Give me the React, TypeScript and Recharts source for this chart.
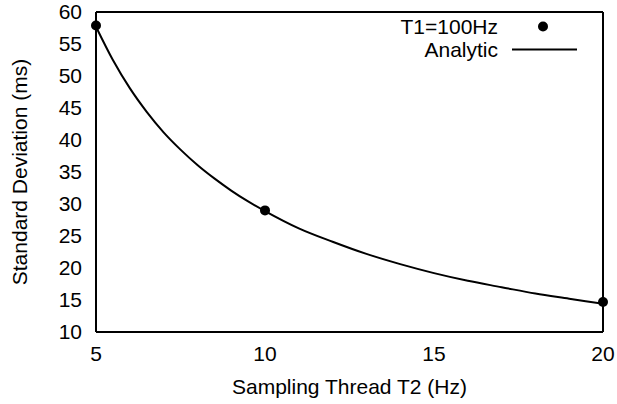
import { ComposedChart, Legend, Line, Scatter, XAxis, YAxis } from 'recharts'

// measured points (T1 = 100Hz)
const sampledHz = [5, 10, 20]
const measuredStd = [57.9, 29.0, 14.7]

// analytic curve
const analyticHz = [5, 5.5, 6, 6.5, 7, 7.5, 8, 8.5, 9, 9.5, 10, 11, 12, 13, 14, 15, 16, 17, 18, 19, 20]
const analyticStd = [57.7, 52.5, 48.1, 44.4, 41.2, 38.5, 36.1, 34.0, 32.1, 30.4, 28.9, 26.2, 24.1, 22.2, 20.6, 19.2, 18.0, 17.0, 16.0, 15.2, 14.4]

const xMajorTicks = [5, 10, 15, 20]
const xMinorTicks = [6, 7, 8, 9, 11, 12, 13, 14, 16, 17, 18, 19]
const yTicks = [10, 15, 20, 25, 30, 35, 40, 45, 50, 55, 60]

const legendItems = [
  { label: 'T1=100Hz', kind: 'dot' },
  { label: 'Analytic', kind: 'line' },
]

const FONT = '"Liberation Sans", Arial, Helvetica, sans-serif'
const tickText = { fill: '#000', fontSize: 21, fontFamily: FONT }
const tickStroke = { stroke: '#000', strokeWidth: 1.5 }
const frame = { stroke: '#000', strokeWidth: 2 }

const measuredData = sampledHz.map((x, i) => ({ x, y: measuredStd[i] }))
const analyticData = analyticHz.map((x, i) => ({ x, y: analyticStd[i] }))

function Dot(props: any) {
  return <circle cx={props.cx} cy={props.cy} r={5} fill='#000' />
}

function YTitle(props: any) {
  const vb = props.viewBox ?? { x: 0, y: 12, width: 96, height: 320 }
  const cx = vb.x + 20
  const cy = vb.y + vb.height / 2
  return (
    <text
      x={cx}
      y={cy}
      dy='0.355em'
      transform={`rotate(-90, ${cx}, ${cy})`}
      textAnchor='middle'
      fontSize={21}
      fontFamily={FONT}
      fill='#000'
    >
      Standard Deviation (ms)
    </text>
  )
}

function GnuplotLegend() {
  return (
    <svg width={230} height={60} style={{ display: 'block' }}>
      {legendItems.map((item, i) => {
        const y = 16.5 + i * 23
        return (
          <g key={item.label}>
            <text
              x={128}
              y={y}
              dy='0.355em'
              textAnchor='end'
              fontSize={21}
              fontFamily={FONT}
              fill='#000'
            >
              {item.label}
            </text>
            {item.kind === 'dot' ? (
              <circle cx={173} cy={y} r={5} fill='#000' />
            ) : (
              <line x1={142} x2={207} y1={y} y2={y} stroke='#000' strokeWidth={2} />
            )}
          </g>
        )
      })}
    </svg>
  )
}

export default function App() {
  return (
    <div style={{ position: 'absolute', left: 0, top: 0, background: '#fff' }}>
      <ComposedChart
        width={617}
        height={404}
        margin={{ top: 12, right: 14, bottom: 0, left: 0 }}
        style={{ fontFamily: FONT }}
      >
        {/* main axes with labels */}
        <XAxis
          dataKey='x'
          type='number'
          domain={[5, 20]}
          ticks={xMajorTicks}
          interval={0}
          height={72}
          tick={tickText}
          tickLine={false}
          tickSize={6}
          tickMargin={8}
          axisLine={frame}
          label={{
            value: 'Sampling Thread T2 (Hz)',
            position: 'insideBottom',
            offset: 10,
            fill: '#000',
            fontSize: 21,
          }}
        />
        <YAxis
          type='number'
          domain={[10, 60]}
          ticks={yTicks}
          interval={0}
          width={96}
          tick={tickText}
          tickLine={false}
          tickSize={6}
          tickMargin={8}
          axisLine={frame}
          label={(p: any) => <YTitle {...p} />}
        />

        {/* inward ticks, gnuplot style */}
        <XAxis xAxisId='bMajor' type='number' domain={[5, 20]} ticks={xMajorTicks} interval={0}
          orientation='bottom' mirror tick={false} tickSize={6} tickLine={tickStroke} axisLine={false} />
        <XAxis xAxisId='bMinor' type='number' domain={[5, 20]} ticks={xMinorTicks} interval={0}
          orientation='bottom' mirror tick={false} tickSize={3} tickLine={tickStroke} axisLine={false} />
        <XAxis xAxisId='tMajor' type='number' domain={[5, 20]} ticks={xMajorTicks} interval={0}
          orientation='top' mirror tick={false} tickSize={6} tickLine={tickStroke} axisLine={frame} />
        <XAxis xAxisId='tMinor' type='number' domain={[5, 20]} ticks={xMinorTicks} interval={0}
          orientation='top' mirror tick={false} tickSize={3} tickLine={tickStroke} axisLine={false} />
        <YAxis yAxisId='lTicks' type='number' domain={[10, 60]} ticks={yTicks} interval={0}
          orientation='left' mirror tick={false} tickSize={5} tickLine={tickStroke} axisLine={false} />
        <YAxis yAxisId='rTicks' type='number' domain={[10, 60]} ticks={yTicks} interval={0}
          orientation='right' mirror tick={false} tickSize={5} tickLine={tickStroke} axisLine={frame} />

        <Legend
          layout='vertical'
          align='center'
          verticalAlign='middle'
          wrapperStyle={{ position: 'absolute', left: 370, top: 10, width: 230, height: 60 }}
          content={() => <GnuplotLegend />}
        />

        <Line
          data={analyticData}
          dataKey='y'
          type='monotone'
          stroke='#000'
          strokeWidth={2}
          dot={false}
          activeDot={false}
          isAnimationActive={false}
        />
        <Scatter
          data={measuredData}
          dataKey='y'
          fill='#000'
          shape={Dot}
          isAnimationActive={false}
        />
      </ComposedChart>
    </div>
  )
}
